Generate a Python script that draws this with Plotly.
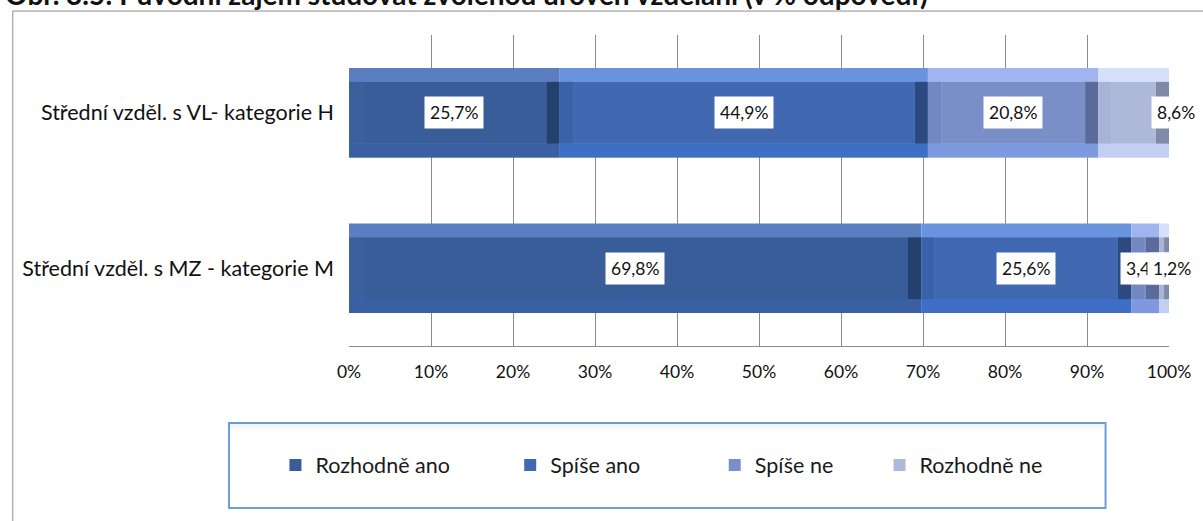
import plotly.graph_objects as go

# ---------------- data ----------------
title_text = "Obr. 3.5: Původní zájem studovat zvolenou úroveň vzdělání (v % odpovědí)"
categories = ["Střední vzděl. s MZ - kategorie M", "Střední vzděl. s VL- kategorie H"]
series_names = ["Rozhodně ano", "Spíše ano", "Spíše ne", "Rozhodně ne"]
values_M = [69.8, 25.6, 3.4, 1.2]
values_H = [25.7, 44.9, 20.8, 8.6]
tick_vals = [0, 10, 20, 30, 40, 50, 60, 70, 80, 90, 100]
tick_text = ["0%", "10%", "20%", "30%", "40%", "50%", "60%", "70%", "80%", "90%", "100%"]

# ---------------- style ----------------
FONT = "Lato"
palette = [
    # center, top, bottom, left, right
    dict(c="#385D99", t="#5A7EBF", b="#3A60A4", l="#3C5F9E", r="#24406E"),
    dict(c="#4169B1", t="#6893DD", b="#3E6EC6", l="#3A62AA", r="#2C4A80"),
    dict(c="#7A8FC8", t="#A0B4EF", b="#7E99DE", l="#7388C2", r="#5A6A99"),
    dict(c="#AEB9DA", t="#D7E0FA", b="#C2CEF2", l="#A8B4D6", r="#808AA6"),
]
W = 0.577      # bar thickness in category units
BV = 0.09      # vertical bevel thickness (category units)
HI = 1.63      # horizontal bevel inset (value units)

rows = [values_M, values_H]
fig = go.Figure()

legend_ids = ["legend", "legend2", "legend3", "legend4"]
for si, name in enumerate(series_names):
    col = palette[si]
    vals = [r[si] for r in rows]
    bases = [sum(r[:si]) for r in rows]
    insets = [min(HI, v / 2) for v in vals]
    common = dict(orientation="h", y=categories, hoverinfo="skip", marker_line_width=0)
    # top bevel (full bar)
    fig.add_trace(go.Bar(x=vals, base=bases, width=W, offset=-W / 2,
                         marker_color=col["t"], showlegend=False, **common))
    # bottom bevel
    fig.add_trace(go.Bar(x=vals, base=bases, width=BV, offset=-W / 2,
                         marker_color=col["b"], showlegend=False, **common))
    # left bevel
    fig.add_trace(go.Bar(x=insets, base=bases, width=W - 2 * BV, offset=-W / 2 + BV,
                         marker_color=col["l"], showlegend=False, **common))
    # right bevel
    fig.add_trace(go.Bar(x=insets, base=[b + v - i for b, v, i in zip(bases, vals, insets)],
                         width=W - 2 * BV, offset=-W / 2 + BV,
                         marker_color=col["r"], showlegend=False, **common))
    # center face (legend entry)
    fig.add_trace(go.Bar(x=[v - 2 * i for v, i in zip(vals, insets)],
                         base=[b + i for b, i in zip(bases, insets)],
                         width=W - 2 * BV, offset=-W / 2 + BV,
                         marker_color=col["c"], name=name,
                         showlegend=True, legend=legend_ids[si], **common))

# data labels
label_xshift = {(1, 3): 42, (0, 3): 8}
annotations = []
for ci, r in enumerate(rows):
    for si, v in enumerate(r):
        center = sum(r[:si]) + v / 2
        annotations.append(dict(
            x=center, y=categories[ci], xref="x", yref="y",
            text=f"{v:.1f}".replace(".", ",") + "%",
            showarrow=False, bgcolor="white", borderpad=5,
            font=dict(family=FONT, size=17.5, color="#111"),
            xshift=label_xshift.get((ci, si), 0)))

# title (partially cut at the top edge, as in the source)
annotations.append(dict(
    text=f"<b>{title_text}</b>", x=-0.422, xanchor="left", xref="paper",
    y=1.0707, yanchor="bottom", yref="paper", showarrow=False,
    font=dict(family=FONT, size=28, color="#111")))

# frame & legend box shapes (paper coords)
shapes = [
    dict(type="rect", xref="paper", yref="paper", x0=-0.41, x1=1.06, y0=-0.62, y1=1.077,
         line=dict(color="#8c8c8c", width=1), fillcolor="rgba(0,0,0,0)", layer="below"),
    dict(type="rect", xref="paper", yref="paper", x0=-0.1463, x1=0.9226, y0=-0.5209, y1=-0.2476,
         line=dict(color="#6A9FD8", width=2), fillcolor="white", layer="below"),
]
for k, a in enumerate([0.10, 0.06, 0.03]):
    shapes.append(dict(type="rect", xref="paper", yref="paper", x0=-0.1443, x1=0.9206,
                       y0=-0.2476 - 0.009 * (k + 1), y1=-0.2476 - 0.009 * k,
                       line=dict(width=0), fillcolor=f"rgba(120,120,120,{a})", layer="below"))

legend_x = [-0.0897, 0.1966, 0.4460, 0.647]
layout_legends = {}
for lid, lx in zip(legend_ids, legend_x):
    layout_legends[lid] = dict(x=lx, y=-0.3826, xanchor="left", yanchor="middle",
                               bgcolor="rgba(0,0,0,0)", borderwidth=0,
                               font=dict(family=FONT, size=21.5, color="#1a1a1a"),
                               itemclick=False, itemdoubleclick=False)

fig.update_layout(
    barmode="overlay",
    width=1203, height=521,
    margin=dict(l=349, r=27, t=35, b=175),
    paper_bgcolor="white", plot_bgcolor="white",
    xaxis=dict(range=[0, 100], tickvals=tick_vals, ticktext=tick_text,
               showgrid=True, gridcolor="#8c8c8c", gridwidth=1,
               zeroline=False, showline=True, linecolor="#8c8c8c", linewidth=1,
               ticks="", ticklabelstandoff=10,
               tickfont=dict(family=FONT, size=17.5, color="#111"), fixedrange=True),
    yaxis=dict(type="category", categoryorder="array", categoryarray=categories,
               range=[-0.5, 1.5], showgrid=False, zeroline=False, showline=False,
               ticks="", ticklabelstandoff=14,
               tickfont=dict(family=FONT, size=21.5, color="#111"), fixedrange=True),
    annotations=annotations,
    shapes=shapes,
    **layout_legends,
)

fig.write_html("out.html", config={"displayModeBar": False},
               post_script="document.body.style.margin='0px';")
